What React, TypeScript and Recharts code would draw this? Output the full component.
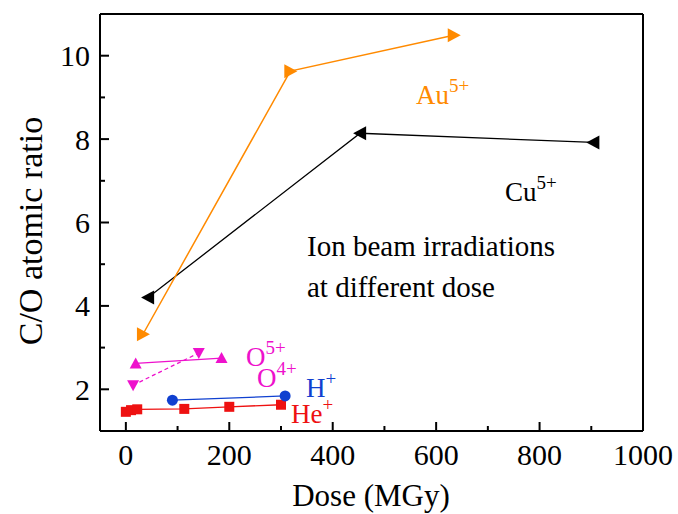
import React from 'react';
import { LineChart, Line, XAxis, YAxis, ReferenceLine } from 'recharts';

const auDose = [33, 318, 634];
const auRatio = [3.32, 9.63, 10.49];
const cuDose = [43, 453, 904];
const cuRatio = [4.2, 8.14, 7.92];
const o5Dose = [19, 185];
const o5Ratio = [2.62, 2.75];
const o4Dose = [14, 141];
const o4Ratio = [2.1, 2.87];
const hDose = [90, 308];
const hRatio = [1.74, 1.84];
const heDose = [0, 10, 22, 113, 200, 300];
const heRatio = [1.46, 1.5, 1.52, 1.53, 1.58, 1.63];

const xTicks = [0, 100, 200, 300, 400, 500, 600, 700, 800, 900, 1000];
const xLabelTicks = [0, 200, 400, 600, 800, 1000];
const yTicks = [2, 3, 4, 5, 6, 7, 8, 9, 10];
const yLabelTicks = [2, 4, 6, 8, 10];

const ORANGE = '#FF8A00';
const BLACK = '#000000';
const MAGENTA = '#EE11CC';
const BLUE = '#1040D0';
const RED = '#EE1111';
const FONT = "'Liberation Serif', 'Times New Roman', serif";

const toData = (xs: number[], ys: number[]) => xs.map((d, i) => ({ dose: d, ratio: ys[i] }));

const makeDot = (kind: string, color: string) => (props: any) => {
  const { cx, cy, index } = props;
  if (cx == null || cy == null) return <g key={`e-${index}`} />;
  let d = '';
  if (kind === 'right') d = `M${cx - 6},${cy - 7} L${cx + 7},${cy} L${cx - 6},${cy + 7} Z`;
  if (kind === 'left') d = `M${cx + 6},${cy - 7} L${cx - 7},${cy} L${cx + 6},${cy + 7} Z`;
  if (kind === 'up') d = `M${cx - 6},${cy + 5} L${cx},${cy - 6} L${cx + 6},${cy + 5} Z`;
  if (kind === 'down') d = `M${cx - 6},${cy - 5} L${cx + 6},${cy - 5} L${cx},${cy + 6} Z`;
  if (kind === 'circle') return <circle key={`d-${index}`} cx={cx} cy={cy} r={5.5} fill={color} stroke="none" />;
  if (kind === 'square') return <rect key={`d-${index}`} x={cx - 5} y={cy - 5} width={10} height={10} fill={color} stroke="none" />;
  return <path key={`d-${index}`} d={d} fill={color} stroke="none" />;
};

const XTick = (props: any) => {
  const { x, y, payload } = props;
  const v = payload.value;
  const major = xLabelTicks.includes(v);
  return (
    <g>
      <line x1={x} x2={x} y1={y} y2={y - (major ? 9 : 5)} stroke="#000" strokeWidth={2} />
      {major && (
        <text x={x} y={y + 34} textAnchor="middle" fontSize={30} fontFamily={FONT} fill="#000">
          {v}
        </text>
      )}
    </g>
  );
};

const YTick = (props: any) => {
  const { x, y, payload } = props;
  const v = payload.value;
  const major = yLabelTicks.includes(v);
  return (
    <g>
      <line x1={x} x2={x + (major ? 9 : 5)} y1={y} y2={y} stroke="#000" strokeWidth={2} />
      {major && (
        <text x={x - 10} y={y + 10.5} textAnchor="end" fontSize={30} fontFamily={FONT} fill="#000">
          {v}
        </text>
      )}
    </g>
  );
};

export default function App() {
  return (
    <div style={{ position: 'absolute', left: 0, top: 0, width: 678, height: 514, background: '#fff' }}>
      <LineChart width={678} height={514} margin={{ top: 14, right: 35, bottom: 0, left: 0 }}>
        <XAxis
          type="number"
          dataKey="dose"
          domain={[-50, 1000]}
          allowDataOverflow
          ticks={xTicks}
          interval={0}
          tickSize={0}
          tickMargin={0}
          tickLine={false}
          tick={<XTick />}
          axisLine={{ stroke: '#000', strokeWidth: 2 }}
          height={83}
        />
        <YAxis
          type="number"
          domain={[1, 11]}
          allowDataOverflow
          ticks={yTicks}
          interval={0}
          tickSize={0}
          tickMargin={0}
          tickLine={false}
          tick={<YTick />}
          axisLine={{ stroke: '#000', strokeWidth: 2 }}
          width={100}
        />
        <ReferenceLine y={11} stroke="#000" strokeWidth={2} />
        <ReferenceLine x={1000} stroke="#000" strokeWidth={2} />
        <Line data={toData(heDose, heRatio)} dataKey="ratio" type="linear" stroke={RED} strokeWidth={1.3} dot={makeDot('square', RED)} isAnimationActive={false} />
        <Line data={toData(hDose, hRatio)} dataKey="ratio" type="linear" stroke={BLUE} strokeWidth={1.3} dot={makeDot('circle', BLUE)} isAnimationActive={false} />
        <Line data={toData(o4Dose, o4Ratio)} dataKey="ratio" type="linear" stroke={MAGENTA} strokeWidth={1.3} strokeDasharray="4 3" dot={makeDot('down', MAGENTA)} isAnimationActive={false} />
        <Line data={toData(o5Dose, o5Ratio)} dataKey="ratio" type="linear" stroke={MAGENTA} strokeWidth={1.3} dot={makeDot('up', MAGENTA)} isAnimationActive={false} />
        <Line data={toData(cuDose, cuRatio)} dataKey="ratio" type="linear" stroke={BLACK} strokeWidth={1.3} dot={makeDot('left', BLACK)} isAnimationActive={false} />
        <Line data={toData(auDose, auRatio)} dataKey="ratio" type="linear" stroke={ORANGE} strokeWidth={1.5} dot={makeDot('right', ORANGE)} isAnimationActive={false} />
      </LineChart>
      <svg width={678} height={514} style={{ position: 'absolute', left: 0, top: 0, pointerEvents: 'none' }} fontFamily={FONT}>
        <text x={371} y={506} textAnchor="middle" fontSize={31} fill="#000">Dose (MGy)</text>
        <text x={0} y={0} transform="translate(42,231) rotate(-90)" textAnchor="middle" fontSize={34} fill="#000">C/O atomic ratio</text>
        <text x={416} y={104} fontSize={27} fill={ORANGE}>Au<tspan dy={-12} fontSize={19}>5+</tspan></text>
        <text x={505} y={201} fontSize={27} fill={BLACK}>Cu<tspan dy={-12} fontSize={19}>5+</tspan></text>
        <text x={307} y={256} fontSize={29} fill="#000">Ion beam irradiations</text>
        <text x={307} y={297} fontSize={29} fill="#000">at different dose</text>
        <text x={246} y={366} fontSize={27} fill={MAGENTA}>O<tspan dy={-12} fontSize={19}>5+</tspan></text>
        <text x={257} y={387} fontSize={27} fill={MAGENTA}>O<tspan dy={-12} fontSize={19}>4+</tspan></text>
        <text x={306} y={397} fontSize={27} fill={BLUE}>H<tspan dy={-12} fontSize={19}>+</tspan></text>
        <text x={291} y={423} fontSize={27} fill={RED}>He<tspan dy={-12} fontSize={19}>+</tspan></text>
      </svg>
    </div>
  );
}
